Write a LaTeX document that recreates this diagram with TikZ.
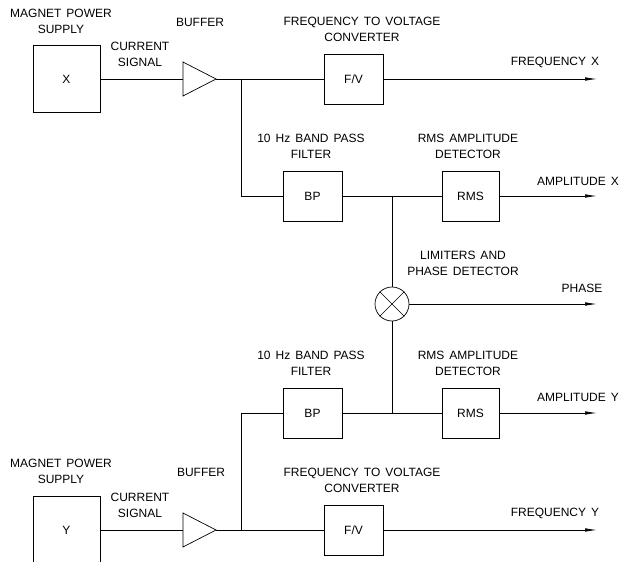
\documentclass[tikz,border=0pt]{standalone}
\usepackage{fontspec}
\setmainfont[WordSpace=1.5]{Liberation Sans}
\usetikzlibrary{shapes.geometric,arrows.meta}

\begin{document}
\begin{tikzpicture}[x=1pt, y=-1pt, line width=0.7pt,
    font=\fontsize{12}{16}\selectfont,
    block/.style={draw, rectangle, minimum width=59pt, minimum height=50pt, inner sep=0pt},
    supply/.style={block, minimum width=67pt, minimum height=67pt},
    buffer/.style={draw, isosceles triangle, isosceles triangle stretches,
        minimum width=34pt, minimum height=33pt, inner sep=0pt, outer sep=0pt, anchor=lower side},
    mixer/.style={draw, circle, minimum size=34pt, inner sep=0pt},
    txt/.style={align=center, inner sep=0pt},
    sig/.style={-{Latex[length=12pt,width=3.5pt]}}]
    \useasboundingbox (0,0) rectangle (625,562);

    % X channel
    \node[supply] (psx) at (66.5,79) {X};
    \node[buffer] (bufx) at (183,79) {};
    \coordinate (jx) at (241,79);
    \node[block] (fvx) at (353.5,79) {F/V};
    \coordinate (outfx) at (597,79);
    \node[block] (bpx) at (312.5,196) {BP};
    \coordinate (jbx) at (392,196);
    \node[block, minimum width=57pt] (rmsx) at (470.5,196) {RMS};
    \coordinate (outax) at (597,196);

    \draw (psx) -- (bufx.lower side);
    \draw (bufx.apex) -- (fvx);
    \draw[sig] (fvx) -- (outfx);
    \draw (jx) |- (bpx);
    \draw (bpx) -- (rmsx);
    \draw[sig] (rmsx) -- (outax);

    % Phase detector
    \node[mixer] (mix) at (392,304) {};
    \draw (mix.45) -- (mix.225);
    \draw (mix.135) -- (mix.315);
    \coordinate (outph) at (597,304);
    \draw (jbx) -- (mix);
    \draw[sig] (mix) -- (outph);

    % Y channel
    \node[supply] (psy) at (66.5,530) {Y};
    \node[buffer] (bufy) at (183,530) {};
    \coordinate (jy) at (241,530);
    \node[block] (fvy) at (353.5,530) {F/V};
    \coordinate (outfy) at (597,530);
    \node[block] (bpy) at (312.5,413) {BP};
    \coordinate (jby) at (392,413);
    \node[block, minimum width=57pt] (rmsy) at (470.5,413) {RMS};
    \coordinate (outay) at (597,413);

    \draw (psy) -- (bufy.lower side);
    \draw (bufy.apex) -- (fvy);
    \draw[sig] (fvy) -- (outfy);
    \draw (jy) |- (bpy);
    \draw (bpy) -- (rmsy);
    \draw[sig] (rmsy) -- (outay);
    \draw (mix) -- (jby);

    % Labels
    \node[txt] (tpsx) at (61,21.5) {MAGNET POWER\\SUPPLY};
    \node[txt] (tbufx) at (200,22) {BUFFER};
    \node[txt] (tcurx) at (140,54) {CURRENT\\SIGNAL};
    \node[txt] (tfvx) at (362,29) {FREQUENCY TO VOLTAGE\\CONVERTER};
    \node[txt] (tfrx) at (555,62) {FREQUENCY X};
    \node[txt] (tbpx) at (311,146.5) {10 Hz BAND PASS\\FILTER};
    \node[txt] (trmsx) at (468,146.5) {RMS AMPLITUDE\\DETECTOR};
    \node[txt] (tamx) at (578,181) {AMPLITUDE X};
    \node[txt] (tmix) at (463,263.5) {LIMITERS AND\\PHASE DETECTOR};
    \node[txt] (tph) at (582,288) {PHASE};
    \node[txt] (tbpy) at (311,363.5) {10 Hz BAND PASS\\FILTER};
    \node[txt] (trmsy) at (468,363.5) {RMS AMPLITUDE\\DETECTOR};
    \node[txt] (tamy) at (578,397) {AMPLITUDE Y};
    \node[txt] (tpsy) at (61,471.5) {MAGNET POWER\\SUPPLY};
    \node[txt] (tbufy) at (201,472) {BUFFER};
    \node[txt] (tfvy) at (362,480) {FREQUENCY TO VOLTAGE\\CONVERTER};
    \node[txt] (tcury) at (140,505) {CURRENT\\SIGNAL};
    \node[txt] (tfry) at (555,513) {FREQUENCY Y};
\end{tikzpicture}
\end{document}
